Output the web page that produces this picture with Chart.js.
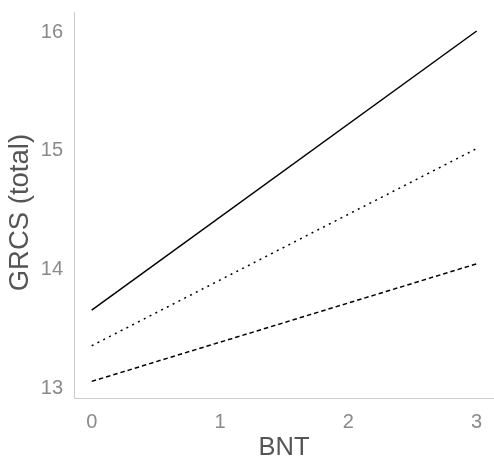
<!DOCTYPE html>
<html>
<head>
<meta charset="utf-8">
<script src="https://cdn.jsdelivr.net/npm/chart.js@4.4.1/dist/chart.umd.min.js"></script>
<style>
  html, body { margin: 0; padding: 0; background: #fff; }
  #wrap { width: 494px; height: 463px; }
</style>
</head>
<body>
<div id="wrap"><canvas id="c"></canvas></div>
<script>
// BNT values at the two ends of each line
const bnt = [0, 3];
// GRCS (total) predictions, three lines
const lineSolid = [13.66, 16.01];
const lineDotted = [13.36, 15.02];
const lineDashed = [13.06, 14.05];
const xTicks = [0, 1, 2, 3];
const yTicks = [13, 14, 15, 16];

const FONT = "'Liberation Sans', Arial, sans-serif";
const TICK_COLOR = '#8a8a8a';
const TITLE_COLOR = '#555555';
const AXIS_COLOR = '#cccccc';

function pts(ys) {
    return bnt.map((x, i) => ({ x: x, y: ys[i] }));
}

function lineSet(label, ys, dash) {
    return {
        label: label,
        data: pts(ys),
        borderColor: '#000000',
        borderWidth: 1.5,
        borderDash: dash,
        pointRadius: 0,
        fill: false,
        tension: 0,
    };
}

new Chart(document.getElementById('c'), {
    type: 'line',
    data: {
        datasets: [
            lineSet('solid', lineSolid, []),
            lineSet('dotted', lineDotted, [2, 4.5]),
            lineSet('dashed', lineDashed, [4.5, 3]),
        ]
    },
    options: {
        responsive: true,
        maintainAspectRatio: false,
        animation: false,
        layout: { padding: 0 },
        plugins: {
            legend: { display: false },
            tooltip: { enabled: false },
        },
        scales: {
            x: {
                type: 'linear',
                min: -0.138,
                max: 3.135,
                afterBuildTicks: s => { s.ticks = xTicks.map(v => ({ value: v })); },
                afterFit: s => { s.height = 65; },
                grid: { display: false },
                border: { display: true, color: AXIS_COLOR, width: 1 },
                ticks: {
                    color: TICK_COLOR,
                    font: { size: 20, family: FONT },
                    padding: 4,
                    maxRotation: 0,
                },
                title: {
                    display: true,
                    text: 'BNT',
                    color: TITLE_COLOR,
                    font: { size: 25.5, family: FONT },
                    padding: { top: 0, bottom: 0 },
                },
            },
            y: {
                type: 'linear',
                min: 12.92,
                max: 16.17,
                afterBuildTicks: s => { s.ticks = yTicks.map(v => ({ value: v })); },
                afterFit: s => {
                    s.width = 74;
                    s.paddingTop = 12;
                    s.paddingBottom = 0;
                },
                grid: { display: false },
                border: { display: true, color: AXIS_COLOR, width: 1 },
                ticks: {
                    color: TICK_COLOR,
                    font: { size: 20, family: FONT },
                    padding: 3,   // plus the 8px tick length chart.js still reserves
                },
                title: {
                    display: true,
                    text: 'GRCS (total)  ',
                    color: TITLE_COLOR,
                    font: { size: 27.5, family: FONT },
                    padding: { top: 4, bottom: 0 },
                },
            }
        }
    }
});
</script>
</body>
</html>
